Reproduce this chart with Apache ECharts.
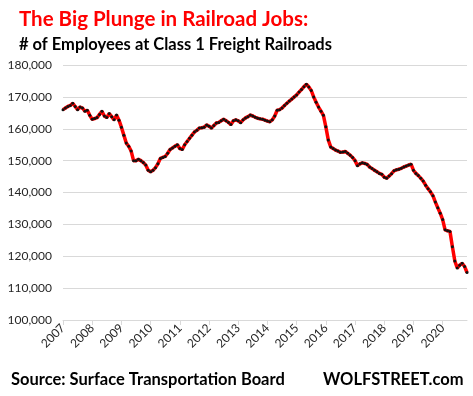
<!DOCTYPE html>
<html>
<head>
<meta charset="utf-8">
<script src="https://cdn.jsdelivr.net/npm/echarts@6/dist/echarts.min.js"></script>
<style>
  html, body { margin: 0; padding: 0; background: #fff; }
  #chart { width: 473px; height: 396px; }
</style>
</head>
<body>
<div id="chart"></div>
<script>
// monthly employees, thousands
const years = ['2007','2008','2009','2010','2011','2012','2013','2014','2015','2016','2017','2018','2019','2020'];
const y2007 = [166.0, 166.5, 167.0, 167.3, 168.0, 167.0, 166.0, 166.8, 166.5, 165.5, 165.8, 164.2];
const y2008 = [163.0, 163.2, 163.5, 164.5, 165.5, 164.0, 163.5, 164.8, 163.8, 162.8, 164.3, 162.7];
const y2009 = [160.5, 158.0, 155.5, 154.5, 153.0, 150.0, 150.0, 150.4, 150.0, 149.4, 148.6, 147.0];
const y2010 = [146.5, 147.0, 147.8, 149.0, 150.7, 151.0, 151.3, 152.3, 153.5, 154.0, 154.5, 155.0];
const y2011 = [153.8, 153.5, 155.0, 156.0, 157.0, 158.0, 159.0, 159.5, 160.2, 160.3, 160.5, 161.2];
const y2012 = [160.8, 160.2, 161.0, 161.8, 162.0, 162.5, 163.0, 162.5, 162.0, 161.3, 162.5, 162.8];
const y2013 = [162.5, 161.9, 162.8, 163.4, 163.8, 164.3, 164.0, 163.6, 163.3, 163.1, 163.0, 162.7];
const y2014 = [162.4, 162.2, 162.8, 164.0, 165.8, 166.0, 166.5, 167.3, 168.0, 168.7, 169.3, 170.0];
const y2015 = [170.6, 171.5, 172.3, 173.2, 174.0, 173.1, 172.0, 170.0, 168.3, 166.8, 165.5, 164.2];
const y2016 = [160.6, 156.5, 154.3, 153.8, 153.3, 153.0, 152.6, 152.7, 152.9, 152.3, 151.7, 151.0];
const y2017 = [150.0, 148.4, 149.0, 149.3, 149.1, 148.8, 148.0, 147.5, 147.0, 146.5, 146.0, 145.7];
const y2018 = [144.8, 144.5, 145.2, 145.9, 146.8, 147.1, 147.3, 147.6, 148.0, 148.3, 148.6, 148.9];
const y2019 = [147.0, 146.0, 145.3, 144.5, 143.6, 142.3, 141.2, 140.2, 139.0, 137.0, 135.2, 133.5];
const y2020 = [131.5, 128.3, 128.0, 127.8, 123.0, 118.5, 116.3, 117.2, 117.8, 116.8, 114.9];

const perYear = [y2007, y2008, y2009, y2010, y2011, y2012, y2013, y2014, y2015, y2016, y2017, y2018, y2019, y2020];
const months = [];
const employees = [];
perYear.forEach((vals, k) => {
  vals.forEach((v, m) => {
    months.push(years[k] + '-' + (m + 1));
    employees.push(Math.round(v * 1000));
  });
});

const isJan = (i) => i % 12 === 0;

const chart = echarts.init(document.getElementById('chart'));
chart.setOption({
  animation: false,
  title: [
    {
      text: 'The Big Plunge in Railroad Jobs:',
      left: 14, top: 4,
      textStyle: { color: '#ff0000', fontFamily: 'Lato', fontWeight: 'bold', fontSize: 20.5 }
    },
    {
      text: '# of Employees at Class 1 Freight Railroads',
      left: 14, top: 31,
      textStyle: { color: '#000', fontFamily: 'Lato', fontWeight: 'bold', fontSize: 16.5 }
    },
    {
      text: 'Source: Surface Transportation Board',
      left: 6, top: 366,
      textStyle: { color: '#000', fontFamily: 'Lato', fontWeight: 'bold', fontSize: 16.5 }
    },
    {
      text: 'WOLFSTREET.com',
      left: 318, top: 366,
      textStyle: { color: '#000', fontFamily: 'Lato', fontWeight: 'bold', fontSize: 16.5 }
    }
  ],
  grid: { left: 63, right: 6, top: 65, bottom: 76, containLabel: false },
  xAxis: {
    type: 'category',
    data: months,
    boundaryGap: false,
    axisLine: { lineStyle: { color: '#d9d9d9', width: 1 } },
    axisTick: { show: true, interval: (i) => isJan(i), length: 5, lineStyle: { color: '#d9d9d9' } },
    axisLabel: {
      interval: (i) => isJan(i),
      formatter: (v) => v.split('-')[0],
      rotate: 45,
      margin: 6,
      color: '#262626',
      fontFamily: 'Lato',
      fontSize: 12
    },
    splitLine: { show: false }
  },
  yAxis: {
    type: 'value',
    min: 100000,
    max: 180000,
    interval: 10000,
    axisLine: { show: false },
    axisTick: { show: false },
    axisLabel: {
      margin: 11,
      color: '#262626',
      fontFamily: 'Lato',
      fontSize: 12,
      formatter: (v) => v.toLocaleString('en-US')
    },
    splitLine: { lineStyle: { color: '#d9d9d9', width: 1 } }
  },
  series: [{
    type: 'line',
    data: employees,
    showSymbol: true,
    showAllSymbol: true,
    symbol: 'circle',
    symbolSize: 3,
    itemStyle: { color: '#111', borderWidth: 0 },
    lineStyle: { color: '#ff0000', width: 3.5 }
  }]
});
</script>
</body>
</html>
